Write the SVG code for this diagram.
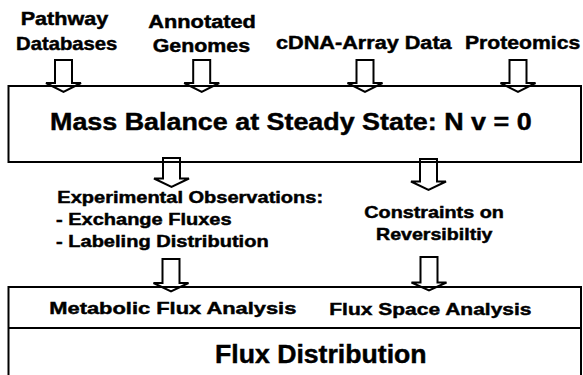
<svg xmlns="http://www.w3.org/2000/svg" width="583" height="375" viewBox="0 0 583 375">
<style>
  .t { font-family: "Liberation Sans", Arial, sans-serif; font-weight: bold; fill: #000; stroke: #000; stroke-width: 0.45; }
  .h { font-size: 18px; }
  .m { font-size: 16px; }
  .s { font-size: 17px; }
  .box { fill: none; stroke: #000; stroke-width: 2; }
  .arr { fill: #fff; stroke: #000; stroke-width: 2; stroke-linejoin: miter; }
</style>
<rect width="583" height="375" fill="#fff"/>
<g id="connectors">
  <path class="arr" d="M55,60 H72 V83 H81 L63.5,92 L46,83 H55 Z"/>
  <path class="arr" d="M193.2,60 H210.2 V83 H219.2 L201.7,92 L184.2,83 H193.2 Z"/>
  <path class="arr" d="M356.5,60 H373.5 V83 H382.5 L365,92 L347.5,83 H356.5 Z"/>
  <path class="arr" d="M509.5,60 H526.5 V83 H535.5 L518,92 L500.5,83 H509.5 Z"/>
  <path class="arr" d="M163,158 H180 V178.5 H189 L171.5,187 L154,178.5 H163 Z"/>
  <path class="arr" d="M420,159 H437 V181.5 H446 L428.5,190 L411,181.5 H420 Z"/>
  <path class="arr" d="M162.5,259 H179.5 V283 H188.5 L171,291.5 L153.5,283 H162.5 Z"/>
  <path class="arr" d="M420.5,257 H437.5 V282.5 H446.5 L429,290.5 L411.5,282.5 H420.5 Z"/>
</g>
<g id="pathway-databases">
  <text class="t h" transform="translate(20.7,25) scale(1.2,1)">Pathway</text>
  <text class="t h" transform="translate(16,50) scale(1.126,1)">Databases</text>
</g>
<g id="annotated-genomes">
  <text class="t h" transform="translate(148.3,27.5) scale(1.21,1)">Annotated</text>
  <text class="t h" transform="translate(152.7,51.5) scale(1.187,1)">Genomes</text>
</g>
<g id="cdna-array-data">
  <text class="t h" transform="translate(276,49.3) scale(1.203,1)">cDNA-Array Data</text>
</g>
<g id="proteomics">
  <text class="t h" transform="translate(465,49.3) scale(1.176,1)">Proteomics</text>
</g>
<g id="mass-balance">
  <rect class="box" x="8.5" y="86" width="572.5" height="76"/>
  <text class="t" style="font-size:24px" transform="translate(50,130) scale(1.12,1)">Mass Balance at Steady State: N v = 0</text>
</g>
<g id="experimental-observations">
  <text class="t m" transform="translate(57.3,203) scale(1.252,1)">Experimental Observations:</text>
  <text class="t m" transform="translate(56,225) scale(1.25,1)">- Exchange Fluxes</text>
  <text class="t m" transform="translate(56,247) scale(1.254,1)">- Labeling Distribution</text>
</g>
<g id="constraints-reversibility">
  <text class="t m" transform="translate(364.3,218.3) scale(1.237,1)">Constraints on</text>
  <text class="t m" transform="translate(376,240) scale(1.226,1)">Reversibiltiy</text>
</g>
<g id="flux-distribution">
  <rect class="box" x="8.5" y="287" width="572.5" height="100"/>
  <line class="box" x1="8.5" y1="328" x2="581" y2="328"/>
  <text class="t s" transform="translate(49.3,313.5) scale(1.287,1)">Metabolic Flux Analysis</text>
  <text class="t s" transform="translate(329.3,314.5) scale(1.235,1)">Flux Space Analysis</text>
  <text class="t" style="font-size:25px" transform="translate(215,363.3) scale(1.066,1)">Flux Distribution</text>
</g>
</svg>
